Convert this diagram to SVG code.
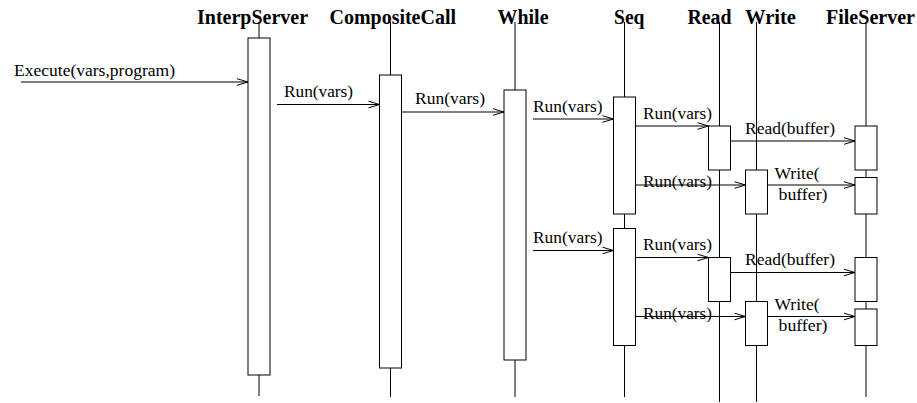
<svg xmlns="http://www.w3.org/2000/svg" width="917" height="403" viewBox="0 0 917 403">
<style>
.title{font-family:"Liberation Serif","Times New Roman",serif;font-weight:bold;font-size:20px;fill:#000}
.lbl{font-family:"Liberation Serif","Times New Roman",serif;font-size:16px;fill:#000}
.life{stroke:#000;stroke-width:1;fill:none}
.act{stroke:#000;stroke-width:1;fill:#fff}
.msg{stroke:#000;stroke-width:1;fill:none;marker-end:url(#arr)}
</style>
<defs>
<marker id="arr" markerUnits="userSpaceOnUse" viewBox="-12 -5 13 10" refX="0" refY="0" markerWidth="13" markerHeight="10" orient="auto">
<path d="M-11,-3.3 L0,0 L-11,3.3" fill="none" stroke="#000" stroke-width="1"/>
</marker>
</defs>
<rect width="917" height="403" fill="#fff"/>
<g id="InterpServer">
<text class="title" x="197" y="23.5" textLength="111" lengthAdjust="spacingAndGlyphs">InterpServer</text>
<line class="life" x1="259" y1="22" x2="259" y2="396"/>
<rect class="act" x="248" y="38" width="22" height="337"/>
</g>
<g id="CompositeCall">
<text class="title" x="329.5" y="23.5" textLength="126.5" lengthAdjust="spacingAndGlyphs">CompositeCall</text>
<line class="life" x1="390.5" y1="22" x2="390.5" y2="397"/>
<rect class="act" x="379.5" y="75" width="22" height="293"/>
</g>
<g id="While">
<text class="title" x="497.5" y="23.5" textLength="51" lengthAdjust="spacingAndGlyphs">While</text>
<line class="life" x1="515" y1="22" x2="515" y2="397"/>
<rect class="act" x="504" y="90" width="22" height="270"/>
</g>
<g id="Seq">
<text class="title" x="614" y="23.5" textLength="30.5" lengthAdjust="spacingAndGlyphs">Seq</text>
<line class="life" x1="624.5" y1="22" x2="624.5" y2="397"/>
<rect class="act" x="613.5" y="97" width="22" height="117"/>
<rect class="act" x="613.5" y="228.5" width="22" height="117"/>
</g>
<g id="Read">
<text class="title" x="687.5" y="23.5" textLength="44" lengthAdjust="spacingAndGlyphs">Read</text>
<line class="life" x1="719.5" y1="22" x2="719.5" y2="402"/>
<rect class="act" x="708.5" y="126" width="22" height="44"/>
<rect class="act" x="708.5" y="257.5" width="22" height="44"/>
</g>
<g id="Write">
<text class="title" x="745" y="23.5" textLength="51" lengthAdjust="spacingAndGlyphs">Write</text>
<line class="life" x1="756.5" y1="22" x2="756.5" y2="402"/>
<rect class="act" x="745.5" y="170" width="22" height="44"/>
<rect class="act" x="745.5" y="301.5" width="22" height="44"/>
</g>
<g id="FileServer">
<text class="title" x="826" y="23.5" textLength="89" lengthAdjust="spacingAndGlyphs">FileServer</text>
<line class="life" x1="866" y1="22" x2="866" y2="397"/>
<rect class="act" x="855" y="126" width="22" height="44"/>
<rect class="act" x="855" y="177.5" width="22" height="36.5"/>
<rect class="act" x="855" y="257.5" width="22" height="44"/>
<rect class="act" x="855" y="309" width="22" height="36.5"/>
</g>
<g id="connectors">
<line class="msg" x1="21" y1="82" x2="248" y2="82"/>
<line class="msg" x1="277" y1="104.5" x2="379.5" y2="104.5"/>
<line class="msg" x1="401.5" y1="112" x2="504" y2="112"/>
<line class="msg" x1="533" y1="119" x2="613.5" y2="119"/>
<line class="msg" x1="635.5" y1="126" x2="708.5" y2="126"/>
<line class="msg" x1="730.5" y1="141" x2="855" y2="141"/>
<line class="msg" x1="635.5" y1="185" x2="745.5" y2="185"/>
<line class="msg" x1="767.5" y1="185" x2="855" y2="185"/>
<line class="msg" x1="533" y1="250.5" x2="613.5" y2="250.5"/>
<line class="msg" x1="635.5" y1="257.5" x2="708.5" y2="257.5"/>
<line class="msg" x1="730.5" y1="272.5" x2="855" y2="272.5"/>
<line class="msg" x1="635.5" y1="316.5" x2="745.5" y2="316.5"/>
<line class="msg" x1="767.5" y1="316.5" x2="855" y2="316.5"/>
<text class="lbl" x="14" y="75.5" textLength="161" lengthAdjust="spacingAndGlyphs">Execute(vars,program)</text>
<text class="lbl" x="284" y="97" textLength="69" lengthAdjust="spacingAndGlyphs">Run(vars)</text>
<text class="lbl" x="415" y="104" textLength="70" lengthAdjust="spacingAndGlyphs">Run(vars)</text>
<text class="lbl" x="533" y="111.5" textLength="69.5" lengthAdjust="spacingAndGlyphs">Run(vars)</text>
<text class="lbl" x="643" y="118.5" textLength="69" lengthAdjust="spacingAndGlyphs">Run(vars)</text>
<text class="lbl" x="745" y="133.5" textLength="90" lengthAdjust="spacingAndGlyphs">Read(buffer)</text>
<text class="lbl" x="643" y="187" textLength="69" lengthAdjust="spacingAndGlyphs">Run(vars)</text>
<text class="lbl" x="774.5" y="178.5" textLength="45" lengthAdjust="spacingAndGlyphs">Write(</text>
<text class="lbl" x="778.5" y="199.5" textLength="49" lengthAdjust="spacingAndGlyphs">buffer)</text>
<text class="lbl" x="533" y="243" textLength="69.5" lengthAdjust="spacingAndGlyphs">Run(vars)</text>
<text class="lbl" x="643" y="250" textLength="69" lengthAdjust="spacingAndGlyphs">Run(vars)</text>
<text class="lbl" x="745" y="265" textLength="90" lengthAdjust="spacingAndGlyphs">Read(buffer)</text>
<text class="lbl" x="643" y="318.5" textLength="69" lengthAdjust="spacingAndGlyphs">Run(vars)</text>
<text class="lbl" x="774.5" y="310" textLength="45" lengthAdjust="spacingAndGlyphs">Write(</text>
<text class="lbl" x="778.5" y="331" textLength="49" lengthAdjust="spacingAndGlyphs">buffer)</text>
</g>
</svg>
